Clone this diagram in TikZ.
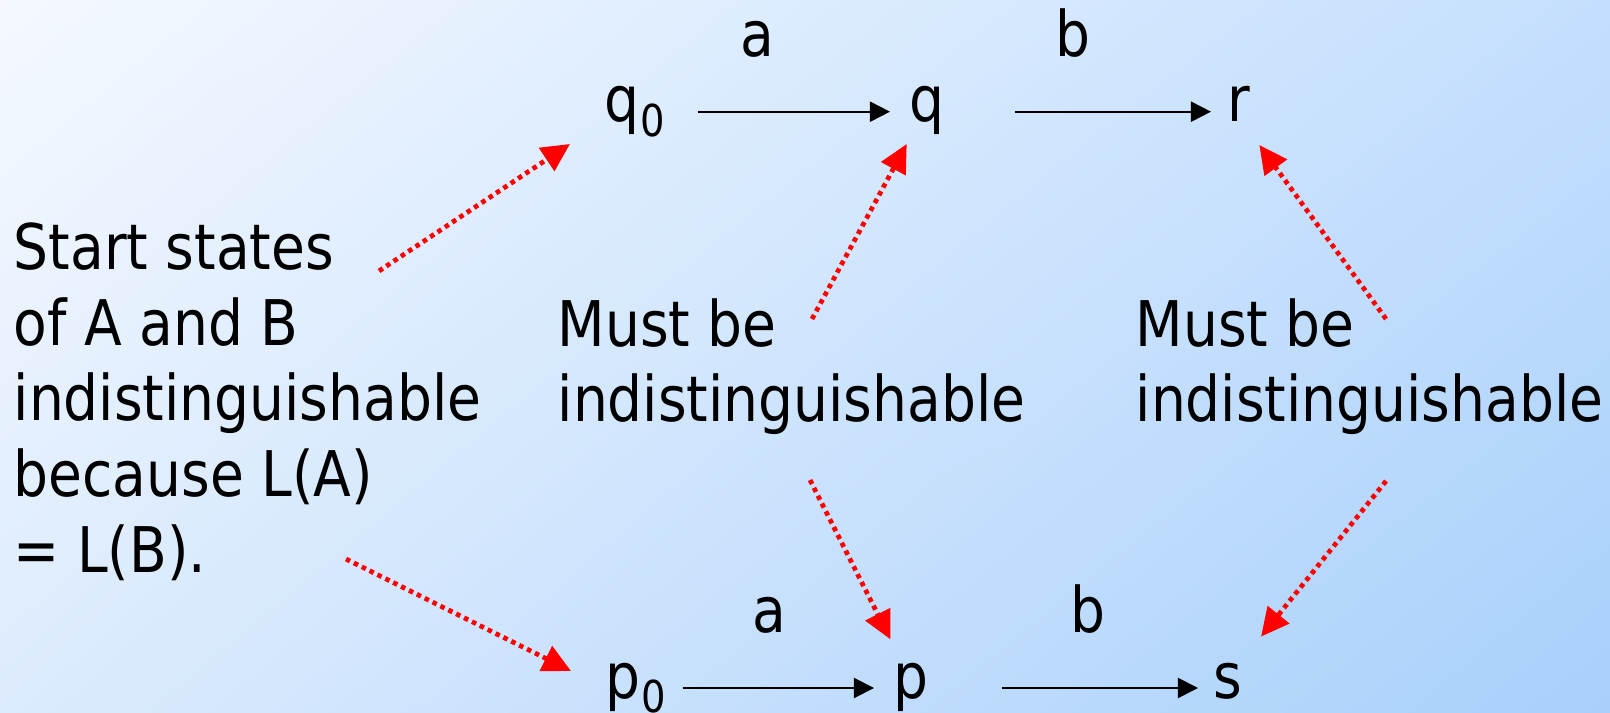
\documentclass[tikz,border=0pt]{standalone}
\usepackage{fontspec}
\setmainfont{DejaVu Sans}[FakeStretch=0.875]
\usetikzlibrary{arrows.meta,shadings}
\definecolor{SlideTL}{HTML}{F5F9FF}
\definecolor{SlideTR}{HTML}{C4DFFD}
\definecolor{SlideBL}{HTML}{DCEBFD}
\definecolor{SlideBR}{HTML}{A8D0FB}
\definecolor{HintRed}{HTML}{FF0000}
\newcommand{\lowsub}[1]{\kern0.2pt\raisebox{-4.1pt}{\fontsize{12.5}{13}\selectfont #1}}
\tikzset{
  txt/.style={anchor=base west,inner sep=0pt,align=left,
              font=\fontsize{17.9}{21.5}\selectfont},
  state/.style={anchor=base west,inner sep=0pt,
                font=\fontsize{17.9}{21.5}\selectfont},
  trans/.style={-{Triangle[length=5.7pt,width=5.7pt]},line width=0.55pt},
  hint/.style={-{Triangle[length=8pt,width=7.7pt]},HintRed,line width=1.35pt,
               dash pattern=on 1.3pt off 1.2pt},
}
\begin{document}
\begin{tikzpicture}[x=0.01cm,y=-0.01cm]

  % slide background
  \shade[upper left=SlideTL,upper right=SlideTR,
         lower left=SlideBL,lower right=SlideBR] (0,0) rectangle (1610,713);
  \useasboundingbox (0,0) rectangle (1610,713);

  % states of A
  \node[state] (q0) at (604,121.7) {q\lowsub{0}};
  \node[state] (q)  at (909,121.7) {q};
  \node[state] (r)  at (1227,121.7) {r};
  \node[state] (la1) at (740,56.7) {a};
  \node[state] (lb1) at (1055,56.7) {b};

  % states of B
  \node[state] (p0) at (605,698) {p\lowsub{0}};
  \node[state] (p)  at (893,698) {p};
  \node[state] (s)  at (1213,698) {s};
  \node[state] (la2) at (752,632.7) {a};
  \node[state] (lb2) at (1070,632.7) {b};

  \draw[trans] ([shift={(32,-10)}]q0.base east) -- ([shift={(-19,-10)}]q.base west);
  \draw[trans] ([shift={(70,-10)}]q.base east) -- ([shift={(-16,-10)}]r.base west);
  \draw[trans] ([shift={(16,-10)}]p0.base east) -- ([shift={(-19,-10)}]p.base west);
  \draw[trans] ([shift={(72.5,-10)}]p.base east) -- ([shift={(-15,-10)}]s.base west);

  % explanations (anchored at the last line)
  \node[txt] (start) at (13,572)
    {Start states\\of A and B\\indistinguishable\\because L(A)\\= L(B).};
  \node[txt] (must1) at (557,421.7) {Must be\\indistinguishable};
  \node[txt] (must2) at (1135,421.7) {Must be\\indistinguishable};

  \coordinate (startTop) at (379,271);
  \coordinate (startBot) at (346,559);
  \coordinate (mustTop1) at (812,319);
  \coordinate (mustBot1) at (810,480);
  \coordinate (mustTop2) at (1386,319);
  \coordinate (mustBot2) at (1386,481);

  \draw[hint] (startTop) -- ([shift={(-34,22.3)}]q0.base west);
  \draw[hint] (startBot) -- ([shift={(-34,-27)}]p0.base west);
  \draw[hint] (mustTop1) -- ([shift={(-2.3,22.3)}]q.base west);
  \draw[hint] (mustBot1) -- ([shift={(-2.6,-58.7)}]p.base west);
  \draw[hint] (mustTop2) -- ([shift={(32.3,23.3)}]r.base west);
  \draw[hint] (mustBot2) -- ([shift={(48,-61.4)}]s.base west);

\end{tikzpicture}
\end{document}
